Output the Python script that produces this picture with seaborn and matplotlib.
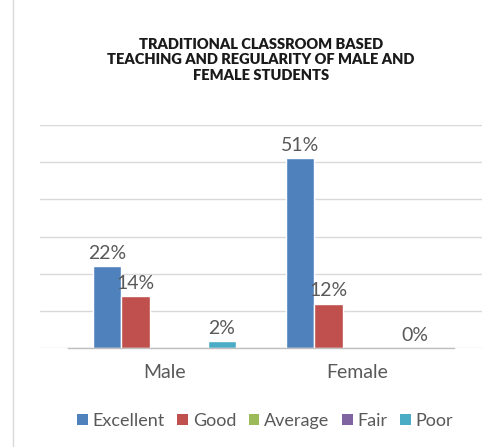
import numpy as np
import pandas as pd
import matplotlib.pyplot as plt
import seaborn as sns
from matplotlib.patches import Patch
from matplotlib.lines import Line2D

# chart data (percent of students)
genders = ['Male', 'Female']
ratings = ['Excellent', 'Good', 'Average', 'Fair', 'Poor']
excellent = [22, 51]
good = [14, 12]
average = [np.nan, np.nan]
fair = [np.nan, np.nan]
poor = [2, 0]
colors = ['#4F81BD', '#C0504D', '#9BBB59', '#8064A2', '#4BACC6']

df = pd.DataFrame({
    'gender': genders * len(ratings),
    'rating': np.repeat(ratings, len(genders)),
    'pct': excellent + good + average + fair + poor,
})

sns.set_style('white')
plt.rcParams['font.family'] = ['Lato', 'DejaVu Sans']
text_grey = '#595959'

fig = plt.figure(figsize=(4.97, 4.47), dpi=100)
ax = fig.add_axes([40 / 497, 98.7 / 447, 442 / 497, 223.3 / 447])

sns.barplot(data=df, x='gender', y='pct', hue='rating', order=genders,
            hue_order=ratings, palette=colors, width=0.744, saturation=1,
            errorbar=None, legend=False, ax=ax)

# data labels
for c in ax.containers:
    ax.bar_label(c, fmt='{:.0f}%', padding=3, fontsize=14, color=text_grey)

ax.set_ylim(0, 60)
ax.set_yticks(range(0, 61, 10))
ax.set_yticklabels([])
ax.tick_params(axis='y', length=0)
ax.set_xlim(-0.5 - 28 / 193, 1.5 + 28 / 193)
ax.yaxis.grid(True, color='#d9d9d9', linewidth=1)
ax.set_axisbelow(True)

for s in ['top', 'right', 'left']:
    ax.spines[s].set_visible(False)
ax.spines['bottom'].set_bounds(-0.5, 1.5)
ax.spines['bottom'].set_color('#bfbfbf')
ax.spines['bottom'].set_linewidth(1)

ax.set_xticks([0, 1])
ax.set_xticklabels(genders, fontsize=14, color=text_grey)
ax.tick_params(axis='x', which='major', length=0, pad=11)
ax.set_xticks([-0.5, 0.5, 1.5], minor=True)
ax.tick_params(axis='x', which='minor', length=5, width=1, color='#bfbfbf')
ax.set_xlabel('')
ax.set_ylabel('')

fig.text(261 / 497, 1 - 60 / 447,
         'TRADITIONAL CLASSROOM BASED\nTEACHING AND REGULARITY OF MALE AND\nFEMALE STUDENTS',
         ha='center', va='center', fontsize=10.5, fontweight='heavy',
         color='#1a1a1a', linespacing=1.2)

handles = [Patch(facecolor=col, edgecolor='none') for col in colors]
fig.legend(handles, ratings, loc='center', bbox_to_anchor=(265 / 497, 1 - 421 / 447),
           ncol=5, frameon=False, fontsize=13, labelcolor=text_grey,
           handlelength=0.6, handleheight=0.6, handletextpad=0.25, columnspacing=0.7)

# light border line at the left of the chart area
fig.add_artist(Line2D([12.5 / 497, 12.5 / 497], [0, 1], color='#d9d9d9', linewidth=1))

plt.savefig('out.png', dpi=100)
